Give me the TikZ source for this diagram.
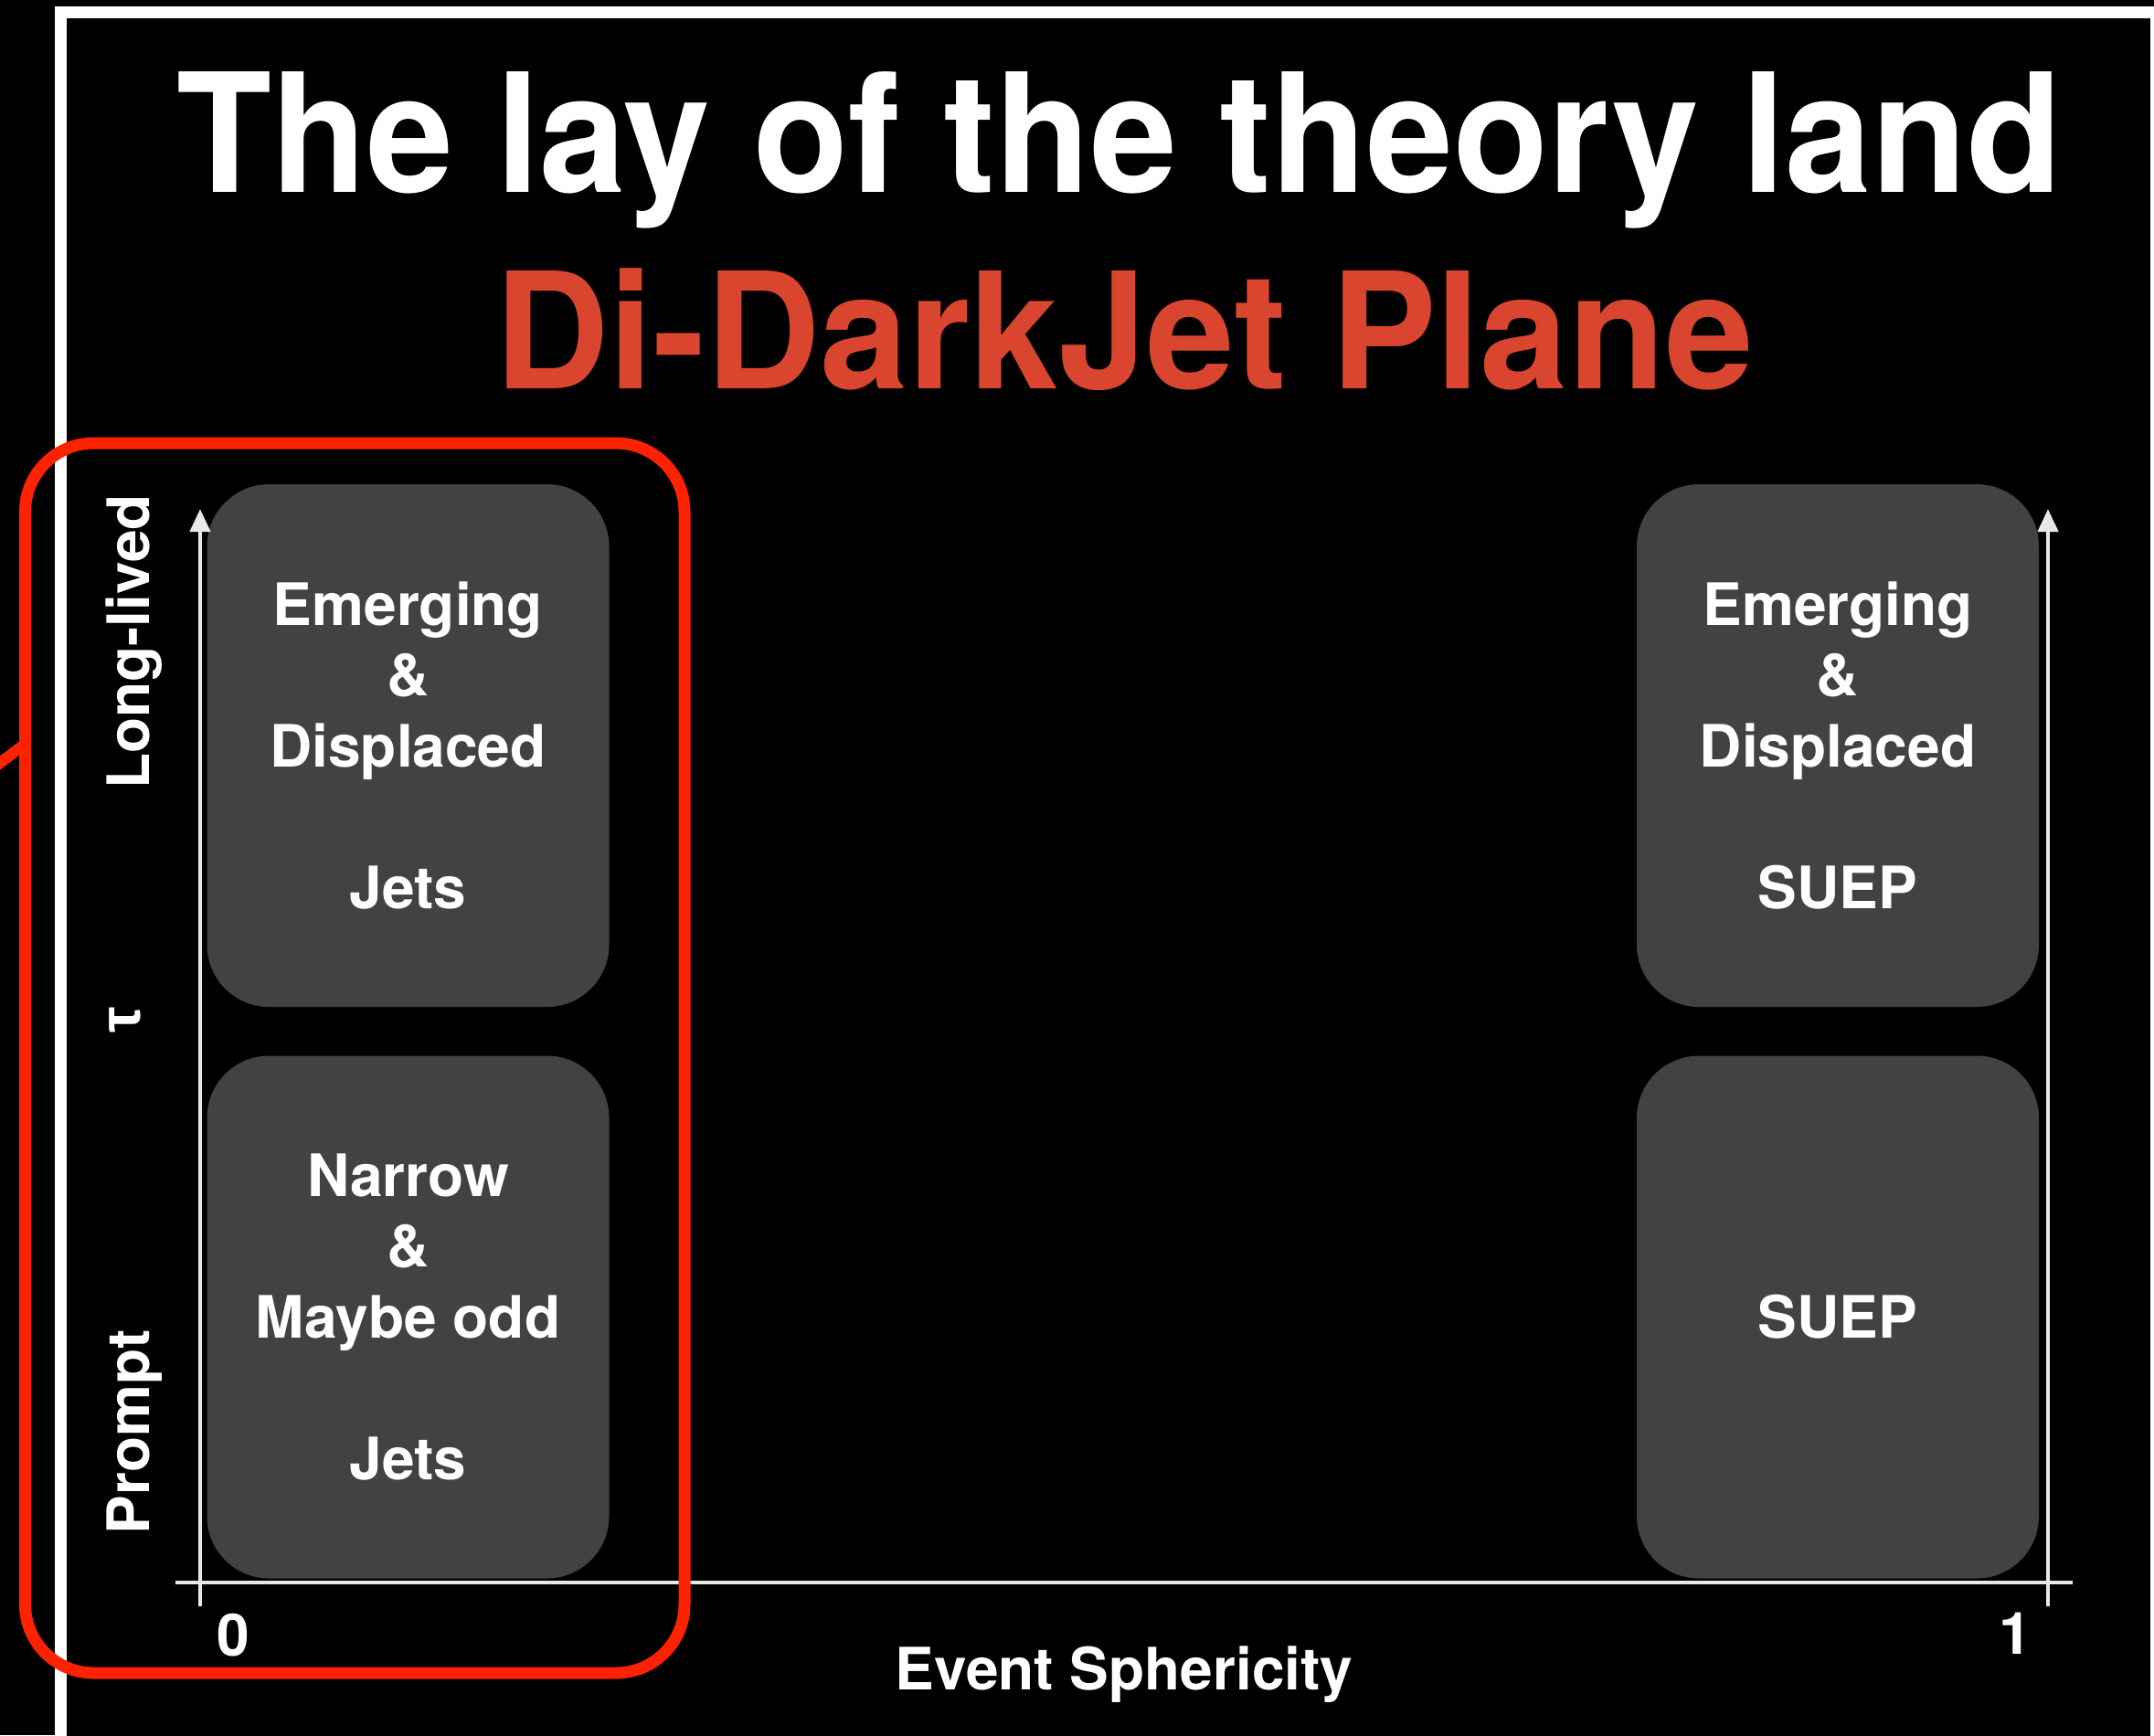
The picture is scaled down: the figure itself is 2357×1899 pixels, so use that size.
\documentclass[tikz,border=0pt]{standalone}
\usepackage{fontspec}
\setmainfont{TeX Gyre Heros}
\newfontfamily\titlefont[FakeStretch=0.94]{TeX Gyre Heros}
\newfontfamily\subtitlefont[FakeStretch=0.98]{TeX Gyre Heros}
\newfontfamily\greekfont{Liberation Sans}
\usetikzlibrary{arrows.meta}

\definecolor{cellgray}{HTML}{424242}
\definecolor{subred}{HTML}{D9452E}
\definecolor{markred}{HTML}{FF2200}
\definecolor{axisgray}{HTML}{E8E8E8}

\begin{document}
\begin{tikzpicture}[x=1pt,y=-1pt,
  cell/.style={fill=cellgray, rounded corners=68pt, minimum width=440pt,
    minimum height=572pt, inner sep=0pt, text=white, align=center,
    font=\fontsize{64}{77.5}\selectfont\bfseries},
  axislabel/.style={text=white, inner sep=0pt, anchor=base,
    font=\fontsize{64}{77}\selectfont\bfseries},
  sidelabel/.style={axislabel, rotate=90},
  axisline/.style={draw=axisgray, line width=4.5pt},
  uparrow/.style={axisline, -{Triangle[length=25pt,width=22pt]}},
  highlight/.style={draw=markred, line width=13pt, rounded corners=75pt,
    minimum width=721.5pt, minimum height=1346pt, inner sep=0pt, outer sep=0pt},
  leader/.style={draw=markred, line width=12pt}
]
% page and slide frame
\path[use as bounding box, fill=black] (0,0) rectangle (2357,1899);
\clip (0,0) rectangle (2357,1899);
\fill[white] (60,7) rectangle (2370,1920);
\fill[black] (73,20) rectangle (2353,1920);

% headings
\node[text=white, inner sep=0pt, anchor=base,
  font=\titlefont\bfseries\fontsize{181}{200}\selectfont]
  (title) at (1225,210) {The lay of the theory land};
\node[text=subred, inner sep=0pt, anchor=base,
  font=\subtitlefont\bfseries\fontsize{177}{200}\selectfont]
  (subtitle) at (1230,425) {Di-DarkJet Plane};

% four regions of the plane
\node[cell] (tl) at (446.5,816) {Emerging\\\&\\Displaced\\[77.5pt]Jets};
\node[cell] (bl) at (446.5,1441.5) {Narrow\\\&\\Maybe odd\\[77.5pt]Jets};
\node[cell] (tr) at (2011,816) {Emerging\\\&\\Displaced\\[77.5pt]SUEP};
\node[cell] (br) at (2011,1441.5) {SUEP};

% axes
\coordinate (yl0) at (219,1758);
\coordinate (yl1) at (219,557);
\coordinate (yr0) at (2241,1758);
\coordinate (yr1) at (2241,557);
\coordinate (x0) at (192,1732);
\coordinate (x1) at (2268,1732);
\draw[axisline] (x0) -- (x1);
\draw[uparrow] (yl0) -- (yl1);
\draw[uparrow] (yr0) -- (yr1);

% axis labels
\node[axislabel] (zero) at (255.5,1812) {0};
\node[axislabel] (one) at (2205,1810) {1};
\node[axislabel] (xlab) at (1230,1849) {Event Sphericity};
\node[sidelabel] (long) at (163,702.5) {Long-lived};
\node[sidelabel] (tau) at (153,1116) {\greekfont τ};
\node[sidelabel] (prompt) at (163,1567) {Prompt};

% red highlight around the small-sphericity column
\node[highlight] (hl) at (388.25,1158) {};
\coordinate (leadout) at (-30,858);
\coordinate (leadin) at (hl.west |- 0,814);
\draw[leader] (leadout) -- (leadin);
\end{tikzpicture}
\end{document}
